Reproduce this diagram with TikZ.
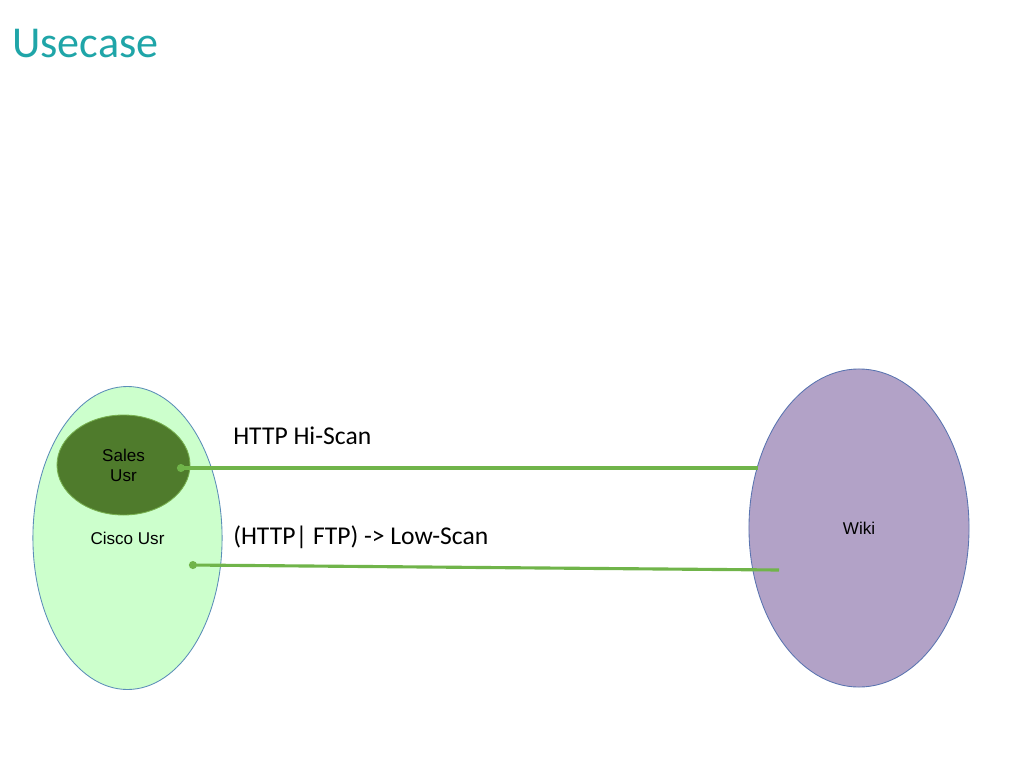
\documentclass[tikz,border=0pt]{standalone}
\usepackage{fontspec}
\setmainfont{Carlito}
\newfontfamily\arialfont{Liberation Sans}
\usetikzlibrary{shapes.geometric,arrows.meta}
\definecolor{titleteal}{HTML}{1FA5A8}
\definecolor{ciscofill}{HTML}{CCFFCC}
\definecolor{ciscoline}{HTML}{5B8DB8}
\definecolor{salesfill}{HTML}{4F7B2C}
\definecolor{salesline}{HTML}{77B04F}
\definecolor{wikifill}{HTML}{B2A2C7}
\definecolor{wikiline}{HTML}{5A74B0}
\definecolor{linkgreen}{HTML}{70B44A}
\tikzset{>=latex}
\tikzset{
  actor/.style={ellipse, inner sep=0pt, align=center, line width=0.6pt,
    font=\arialfont\fontsize{12}{14}\selectfont},
  link/.style={draw=linkgreen, line width=2.2pt, {Circle[length=5.5pt]}-},
  scanlabel/.style={anchor=base west, inner sep=0pt, font=\fontsize{18}{22}\selectfont}
}

\begin{document}
\begin{tikzpicture}[x=0.703pt, y=-0.703pt]
          \useasboundingbox (0,0) rectangle (1024,768);
          \node[anchor=base west, inner sep=0pt, text=titleteal,
            font=\fontsize{31}{37}\selectfont] (title) at (12,57) {Usecase};

          \node[actor, fill=ciscofill, draw=ciscoline, minimum width=133pt,
            minimum height=213pt] (cisco) at (127.5,538) {Cisco Usr};
          \node[actor, fill=salesfill, draw=salesline, minimum width=93.5pt,
            minimum height=70.3pt] (sales) at (123.5,465) {Sales\\Usr};
          \node[actor, fill=wikifill, draw=wikiline, minimum width=154.7pt,
            minimum height=223.6pt] (wiki) at (859,528) {Wiki};

          \coordinate (hifrom) at (177,468);
          \coordinate (hito) at (758,468);
          \coordinate (lowfrom) at (189,565);
          \coordinate (lowto) at (779,570);

          \draw[link] (hifrom) -- (hito);
          \draw[link] (lowfrom) -- (lowto);

          \node[scanlabel] (hilabel) at (233,444) {HTTP Hi-Scan};
          \node[scanlabel] (lowlabel) at (233,544) {(HTTP| FTP) -> Low-Scan};
        \end{tikzpicture}
\end{document}
